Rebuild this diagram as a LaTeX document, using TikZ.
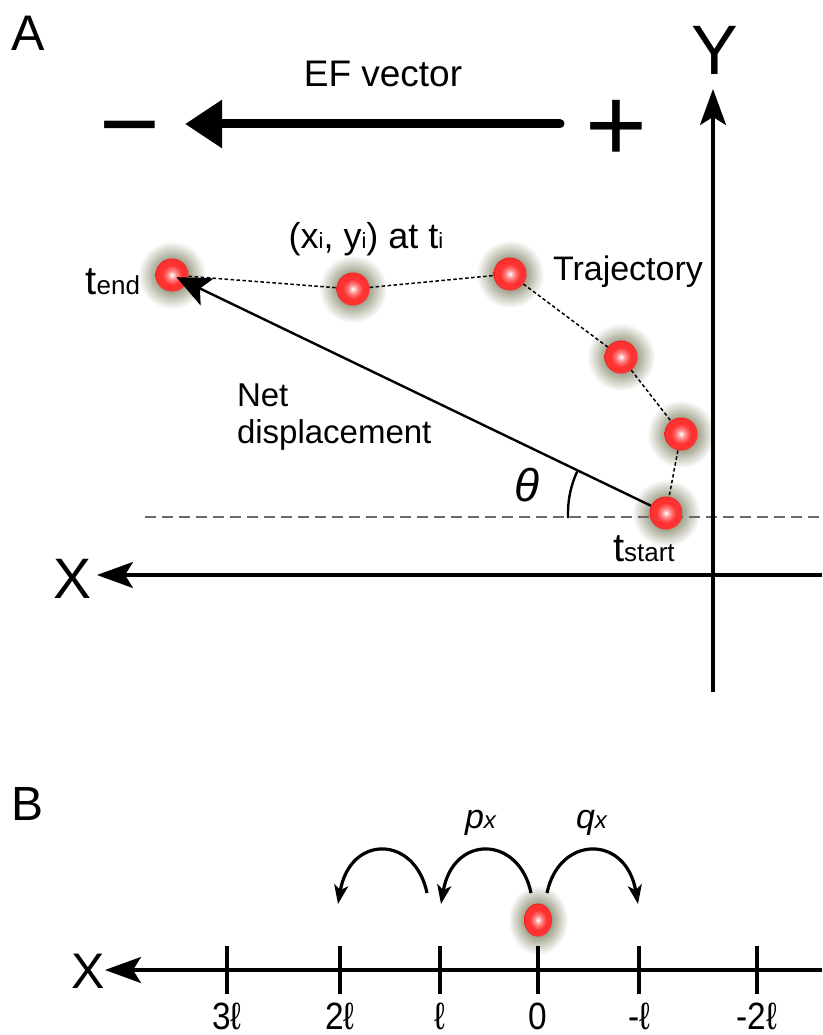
\documentclass[tikz,border=0pt]{standalone}
\usepackage{fontspec}
\setmainfont{Liberation Sans}
\newfontfamily\narrowfont[FakeStretch=0.88]{Liberation Sans}
\usetikzlibrary{arrows.meta,calc,fadings,shapes.geometric}
\definecolor{sred}{RGB}{255,50,50}
\definecolor{sedge}{RGB}{242,32,32}
\definecolor{glowcol}{RGB}{80,80,40}
\definecolor{dashgray}{RGB}{105,105,105}
\pgfdeclareradialshading{sphereshade}{\pgfpointorigin}{color(0bp)=(white); color(7bp)=(white!40!sred); color(15bp)=(sred); color(23bp)=(sred); color(25bp)=(sedge); color(50bp)=(sedge)}
\tikzfading[name=glowfade, inner color=transparent!0, outer color=transparent!100]
\newcommand\fs[1]{\fontsize{#1}{#1}\selectfont}
\begin{document}
\begin{tikzpicture}[x=1pt,y=-1pt,
  lbl/.style={inner sep=0pt, outer sep=0pt},
  particle/.style={circle, minimum size=33pt, inner sep=0pt, shading=sphereshade},
  glow/.style={fill=glowcol, path fading=glowfade},
  traj/.style={line width=1.5pt, dash pattern=on 3.5pt off 2.5pt},
  axisline/.style={line width=3.2pt, -{Stealth[length=36pt,width=26pt,inset=8pt]}},
  netarrow/.style={line width=2.4pt, -{Stealth[length=34pt,width=30pt,inset=8pt]}},
  efarrow/.style={line width=9pt, line cap=round, -{Triangle[length=37pt,width=46pt]}},
  hop/.style={line width=3.2pt, -{Stealth[length=19pt,width=14pt,inset=5pt]}},
  tick/.style={line width=3.2pt}]
\useasboundingbox (0,0) rectangle (822,1035);
% ---------- coordinates ----------
\coordinate (c1) at (172,275);
\coordinate (c2) at (353,289);
\coordinate (c3) at (510,274);
\coordinate (c4) at (621,357);
\coordinate (c5) at (681,434);
\coordinate (c6) at (666,513);
\coordinate (cB) at (538,920);
% ---------- glows ----------
\foreach \c in {c1,c2,c3,c4,c5,c6}{\fill[glow] (\c) circle (34pt);}
\fill[glow] (cB) ellipse (30pt and 35pt);
% ---------- panel A ----------
\coordinate (dl) at (145,517);
\coordinate (dr) at (822,517);
\draw[dashgray, line width=2.8pt, dash pattern=on 11pt off 6pt] (dl) -- (dr);
\coordinate (yb) at (713,692);
\coordinate (yt) at (713,89);
\draw[axisline] (yb) -- (yt);
\coordinate (xr) at (822,575);
\coordinate (xl) at (97,575);
\draw[axisline] (xr) -- (xl);
\node[particle] (p1) at (c1) {};
\node[particle] (p2) at (c2) {};
\node[particle] (p3) at (c3) {};
\node[particle] (p4) at (c4) {};
\node[particle] (p5) at (c5) {};
\node[particle] (p6) at (c6) {};
\draw[traj] (p1) -- (p2);
\draw[traj] (p2) -- (p3);
\draw[traj] (p3) -- (p4);
\draw[traj] (p4) -- (p5);
\draw[traj] (p5) -- (p6);
\draw[netarrow] (p6) -- ($(p1.center)!5pt!(p6.center)$);
\draw[line width=2.4pt] ($(p6.center)+(177:98)$) arc[start angle=177, end angle=205, radius=98];
\coordinate (efr) at (560,124);
\coordinate (efl) at (185,124);
\draw[efarrow] (efr) -- (efl);
% labels A
\node[lbl, anchor=base west] (labA) at (12,51) {\fs{50}A};
\node[lbl, anchor=base] (labY) at (715,75) {\fs{70}Y};
\node[lbl, anchor=base] (labX) at (73,598) {\fs{57}X};
\node[lbl, anchor=base] (eflbl) at (383,87) {\fs{37}EF vector};
\node[lbl, anchor=base] (minus) at (130,160) {\fs{104}−};
\node[lbl, anchor=base] (plus) at (616,162) {\fs{106}+};
\node[lbl, anchor=base] (xylbl) at (366,248) {\fs{36}(x{\fs{22}i}, y{\fs{22}i}) at t{\fs{22}i}};
\node[lbl, anchor=base west] (trajlbl) at (553,280) {\fs{34}Trajectory};
\node[lbl, anchor=base west] (net1) at (237,406) {\fs{33}Net};
\node[lbl, anchor=base west] (net2) at (237,443) {\fs{33}displacement};
\node[lbl, anchor=base west] (theta) at (514,501) {\fs{46}\itshape θ};
\node[lbl, anchor=base east] (tend) at (140,294) {{\fs{40}t}{\fs{26}end}};
\node[lbl, anchor=base west] (tstart) at (613,561) {{\fs{40}t}{\fs{26}start}};
% ---------- panel B ----------
\node[lbl, anchor=base west] (labB) at (12,820) {\fs{48}B};
\coordinate (bxr) at (822,970);
\coordinate (bxl) at (105,970);
\draw[axisline] (bxr) -- (bxl);
\node[lbl, anchor=base] (labXB) at (88,988) {\fs{50}X};
\foreach \x/\t/\n in {227/3ℓ/t1, 340/2ℓ/t2, 440/ℓ/t3, 538/0/t4, 639/-ℓ/t5, 757/-2ℓ/t6}{
  \draw[tick] (\x,946) -- (\x,994);
  \node[lbl, anchor=base] (\n) at (\x,1029) {\narrowfont\fs{38}\t};
}
\node[ellipse, minimum width=28pt, minimum height=33pt, inner sep=0pt, shading=sphereshade] (pB) at (cB) {};
\coordinate (a1s) at (427,893);
\coordinate (a1e) at (338,904);
\coordinate (a2s) at (531,893);
\coordinate (a2e) at (441,904);
\coordinate (a3s) at (547,893);
\coordinate (a3e) at (638,904);
\draw[hop] (a1s) .. controls ($(a1s)+(-12,-58)$) and ($(a1e)+(12,-70)$) .. (a1e);
\draw[hop] (a2s) .. controls ($(a2s)+(-12,-58)$) and ($(a2e)+(12,-70)$) .. (a2e);
\draw[hop] (a3s) .. controls ($(a3s)+(12,-58)$) and ($(a3e)+(-12,-70)$) .. (a3e);
\node[lbl, anchor=base west] (px) at (465,828) {\fs{34}\itshape p{\fs{24}x}};
\node[lbl, anchor=base west] (qx) at (576,828) {\fs{34}\itshape q{\fs{24}x}};
\end{tikzpicture}
\end{document}
